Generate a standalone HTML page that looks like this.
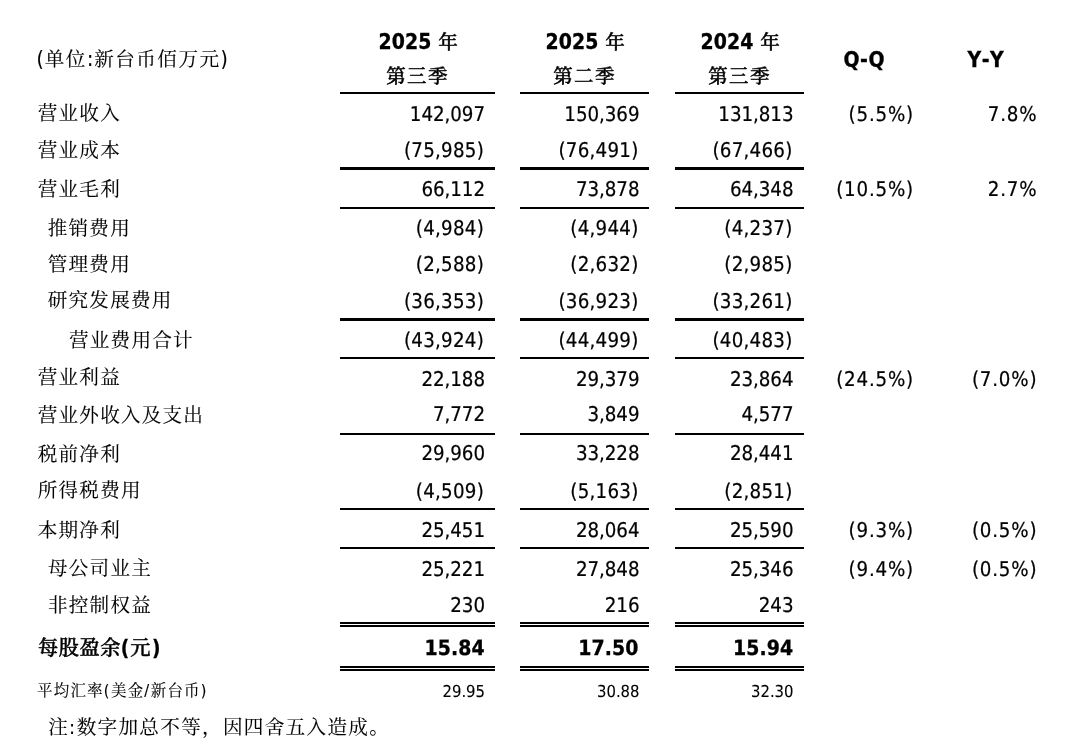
<!DOCTYPE html>
<html lang="zh-CN"><head><meta charset="utf-8"><title>合并损益表</title>
<style>
html,body{margin:0;padding:0;background:#fff;}
body{filter:blur(0.35px);width:1076px;height:746px;position:relative;overflow:hidden;color:#000;font-family:"DejaVu Sans Condensed","Liberation Sans","Noto Serif CJK SC",serif;}
.t{position:absolute;white-space:nowrap;line-height:30px;height:30px;}
.n{font-size:20.3px;letter-spacing:-0.05px;text-align:right;-webkit-text-stroke:0.2px #000;text-rendering:geometricPrecision;}
.l{font-size:19.6px;letter-spacing:1.2px;-webkit-text-stroke:0.12px #000;}
.l i{font-style:normal;font-size:20px;letter-spacing:0;}
.b{font-weight:bold;}
.n.b,.hd,.qy{font-size:21.0px;letter-spacing:0.1px;font-weight:bold;font-kerning:none;-webkit-text-stroke:0.3px #000;}
.qy{letter-spacing:0.5px;}
.hd,.hq{width:160px;text-align:center;}
.hq{font-size:19.5px;letter-spacing:1.4px;font-weight:500;-webkit-text-stroke:0.45px #000;}
.hc{font-size:19.5px;letter-spacing:0;font-weight:500;-webkit-text-stroke:0.45px #000;}
.s{font-size:15.5px;letter-spacing:1.2px;}
.s i{font-size:16px;}
.n.s{font-size:16.5px;letter-spacing:0;-webkit-text-stroke:0.1px #000;}
.n.p{letter-spacing:0.8px;}
.n.q{letter-spacing:0.25px;}
.l.b{font-size:20.2px;letter-spacing:0.6px;font-weight:500;-webkit-text-stroke:0.5px #000;}
.l.b i{font-weight:bold;-webkit-text-stroke:0.3px #000;}
.l.b i{font-size:20.6px;margin:0 1px 0 -0.5px;}
.l.b i+i{margin:0 0 0 1px;}
.l.s i{margin-right:1.5px;}
.l.nt{letter-spacing:1.3px;}
.l.nt i{margin-right:1.5px;}
.l.tt{letter-spacing:1.45px;}
.l.tt i{margin-right:1px;font-size:20.8px;}
.h{position:absolute;background:#000;}
</style></head><body>
<div class="h" style="left:340px;top:92px;width:155px;height:2px"></div>
<div class="h" style="left:520px;top:92px;width:129px;height:2px"></div>
<div class="h" style="left:675px;top:92px;width:129px;height:2px"></div>
<div class="h" style="left:340px;top:167px;width:155px;height:3px"></div>
<div class="h" style="left:520px;top:167px;width:129px;height:3px"></div>
<div class="h" style="left:675px;top:167px;width:129px;height:3px"></div>
<div class="h" style="left:340px;top:207px;width:155px;height:2px"></div>
<div class="h" style="left:520px;top:207px;width:129px;height:2px"></div>
<div class="h" style="left:675px;top:207px;width:129px;height:2px"></div>
<div class="h" style="left:340px;top:318px;width:155px;height:3px"></div>
<div class="h" style="left:520px;top:318px;width:129px;height:3px"></div>
<div class="h" style="left:675px;top:318px;width:129px;height:3px"></div>
<div class="h" style="left:340px;top:357px;width:155px;height:2px"></div>
<div class="h" style="left:520px;top:357px;width:129px;height:2px"></div>
<div class="h" style="left:675px;top:357px;width:129px;height:2px"></div>
<div class="h" style="left:340px;top:433px;width:155px;height:2px"></div>
<div class="h" style="left:520px;top:433px;width:129px;height:2px"></div>
<div class="h" style="left:675px;top:433px;width:129px;height:2px"></div>
<div class="h" style="left:340px;top:508px;width:155px;height:2px"></div>
<div class="h" style="left:520px;top:508px;width:129px;height:2px"></div>
<div class="h" style="left:675px;top:508px;width:129px;height:2px"></div>
<div class="h" style="left:340px;top:547px;width:155px;height:2px"></div>
<div class="h" style="left:520px;top:547px;width:129px;height:2px"></div>
<div class="h" style="left:675px;top:547px;width:129px;height:2px"></div>
<div class="h" style="left:340px;top:622px;width:155px;height:2px"></div>
<div class="h" style="left:520px;top:622px;width:129px;height:2px"></div>
<div class="h" style="left:675px;top:622px;width:129px;height:2px"></div>
<div class="h" style="left:340px;top:625px;width:155px;height:2px"></div>
<div class="h" style="left:520px;top:625px;width:129px;height:2px"></div>
<div class="h" style="left:675px;top:625px;width:129px;height:2px"></div>
<div class="h" style="left:340px;top:666px;width:155px;height:2px"></div>
<div class="h" style="left:520px;top:666px;width:129px;height:2px"></div>
<div class="h" style="left:675px;top:666px;width:129px;height:2px"></div>
<div class="h" style="left:340px;top:669px;width:155px;height:2px"></div>
<div class="h" style="left:520px;top:669px;width:129px;height:2px"></div>
<div class="h" style="left:675px;top:669px;width:129px;height:2px"></div>
<div class="t l tt" style="left:36.50px;top:44.10px"><i>(</i>单位<i>:</i>新台币佰万元<i>)</i></div>
<div class="t hd" style="left:338.2px;top:26.75px">2025 <span class="hc">年</span></div>
<div class="t hq" style="left:337.5px;top:62.00px">第三季</div>
<div class="t hd" style="left:505.2px;top:26.75px">2025 <span class="hc">年</span></div>
<div class="t hq" style="left:504.5px;top:62.00px">第二季</div>
<div class="t hd" style="left:660.2px;top:26.75px">2024 <span class="hc">年</span></div>
<div class="t hq" style="left:659.5px;top:62.00px">第三季</div>
<div class="t qy" style="left:843.5px;top:45.00px">Q-Q</div>
<div class="t qy" style="left:967.5px;top:45.00px">Y-Y</div>
<div class="t l" style="left:37.75px;top:99.00px">营业收入</div>
<div class="t n" style="right:591.05px;top:99.0px">142,097</div>
<div class="t n" style="right:436.55px;top:99.0px">150,369</div>
<div class="t n" style="right:282.55px;top:99.0px">131,813</div>
<div class="t n p" style="right:162.00px;top:99.0px">(5.5%)</div>
<div class="t n p" style="right:38.70px;top:99.0px">7.8%</div>
<div class="t l" style="left:37.75px;top:136.25px">营业成本</div>
<div class="t n q" style="right:591.95px;top:135.0px">(75,985)</div>
<div class="t n q" style="right:437.45px;top:135.0px">(76,491)</div>
<div class="t n q" style="right:283.45px;top:135.0px">(67,466)</div>
<div class="t l" style="left:37.75px;top:175.00px">营业毛利</div>
<div class="t n" style="right:591.05px;top:174.0px">66,112</div>
<div class="t n" style="right:436.55px;top:174.0px">73,878</div>
<div class="t n" style="right:282.55px;top:174.0px">64,348</div>
<div class="t n p" style="right:162.00px;top:174.0px">(10.5%)</div>
<div class="t n p" style="right:38.70px;top:174.0px">2.7%</div>
<div class="t l" style="left:47.75px;top:214.00px">推销费用</div>
<div class="t n q" style="right:591.95px;top:213.0px">(4,984)</div>
<div class="t n q" style="right:437.45px;top:213.0px">(4,944)</div>
<div class="t n q" style="right:283.45px;top:213.0px">(4,237)</div>
<div class="t l" style="left:47.75px;top:250.00px">管理费用</div>
<div class="t n q" style="right:591.95px;top:249.0px">(2,588)</div>
<div class="t n q" style="right:437.45px;top:249.0px">(2,632)</div>
<div class="t n q" style="right:283.45px;top:249.0px">(2,985)</div>
<div class="t l" style="left:47.75px;top:286.25px">研究发展费用</div>
<div class="t n q" style="right:591.95px;top:286.0px">(36,353)</div>
<div class="t n q" style="right:437.45px;top:286.0px">(36,923)</div>
<div class="t n q" style="right:283.45px;top:286.0px">(33,261)</div>
<div class="t l" style="left:69.00px;top:325.75px">营业费用合计</div>
<div class="t n q" style="right:591.95px;top:325.0px">(43,924)</div>
<div class="t n q" style="right:437.45px;top:325.0px">(44,499)</div>
<div class="t n q" style="right:283.45px;top:325.0px">(40,483)</div>
<div class="t l" style="left:37.75px;top:363.25px">营业利益</div>
<div class="t n" style="right:591.05px;top:364.0px">22,188</div>
<div class="t n" style="right:436.55px;top:364.0px">29,379</div>
<div class="t n" style="right:282.55px;top:364.0px">23,864</div>
<div class="t n p" style="right:162.00px;top:364.0px">(24.5%)</div>
<div class="t n p" style="right:38.70px;top:364.0px">(7.0%)</div>
<div class="t l" style="left:37.75px;top:400.75px">营业外收入及支出</div>
<div class="t n" style="right:591.05px;top:399.0px">7,772</div>
<div class="t n" style="right:436.55px;top:399.0px">3,849</div>
<div class="t n" style="right:282.55px;top:399.0px">4,577</div>
<div class="t l" style="left:37.75px;top:439.50px">税前净利</div>
<div class="t n" style="right:591.05px;top:438.0px">29,960</div>
<div class="t n" style="right:436.55px;top:438.0px">33,228</div>
<div class="t n" style="right:282.55px;top:438.0px">28,441</div>
<div class="t l" style="left:37.75px;top:476.25px">所得税费用</div>
<div class="t n q" style="right:591.95px;top:476.0px">(4,509)</div>
<div class="t n q" style="right:437.45px;top:476.0px">(5,163)</div>
<div class="t n q" style="right:283.45px;top:476.0px">(2,851)</div>
<div class="t l" style="left:37.75px;top:515.75px">本期净利</div>
<div class="t n" style="right:591.05px;top:515.0px">25,451</div>
<div class="t n" style="right:436.55px;top:515.0px">28,064</div>
<div class="t n" style="right:282.55px;top:515.0px">25,590</div>
<div class="t n p" style="right:162.00px;top:515.0px">(9.3%)</div>
<div class="t n p" style="right:38.70px;top:515.0px">(0.5%)</div>
<div class="t l" style="left:48.00px;top:554.30px">母公司业主</div>
<div class="t n" style="right:591.05px;top:554.0px">25,221</div>
<div class="t n" style="right:436.55px;top:554.0px">27,848</div>
<div class="t n" style="right:282.55px;top:554.0px">25,346</div>
<div class="t n p" style="right:162.00px;top:554.0px">(9.4%)</div>
<div class="t n p" style="right:38.70px;top:554.0px">(0.5%)</div>
<div class="t l" style="left:48.00px;top:591.00px">非控制权益</div>
<div class="t n" style="right:591.05px;top:590.0px">230</div>
<div class="t n" style="right:436.55px;top:590.0px">216</div>
<div class="t n" style="right:282.55px;top:590.0px">243</div>
<div class="t l b" style="left:38.00px;top:633.20px">每股盈余<i>(</i>元<i>)</i></div>
<div class="t n b" style="right:591.20px;top:633.0px">15.84</div>
<div class="t n b" style="right:437.40px;top:633.0px">17.50</div>
<div class="t n b" style="right:282.70px;top:633.0px">15.94</div>
<div class="t l s" style="left:37.00px;top:676.30px">平均汇率<i>(</i>美金<i>/</i>新台币<i>)</i></div>
<div class="t n s" style="right:591.00px;top:676.5px">29.95</div>
<div class="t n s" style="right:436.50px;top:676.5px">30.88</div>
<div class="t n s" style="right:282.50px;top:676.5px">32.30</div>
<div class="t l nt" style="left:48.20px;top:712.30px">注<i>:</i>数字加总不等，因四舍五入造成。</div>
</body></html>
